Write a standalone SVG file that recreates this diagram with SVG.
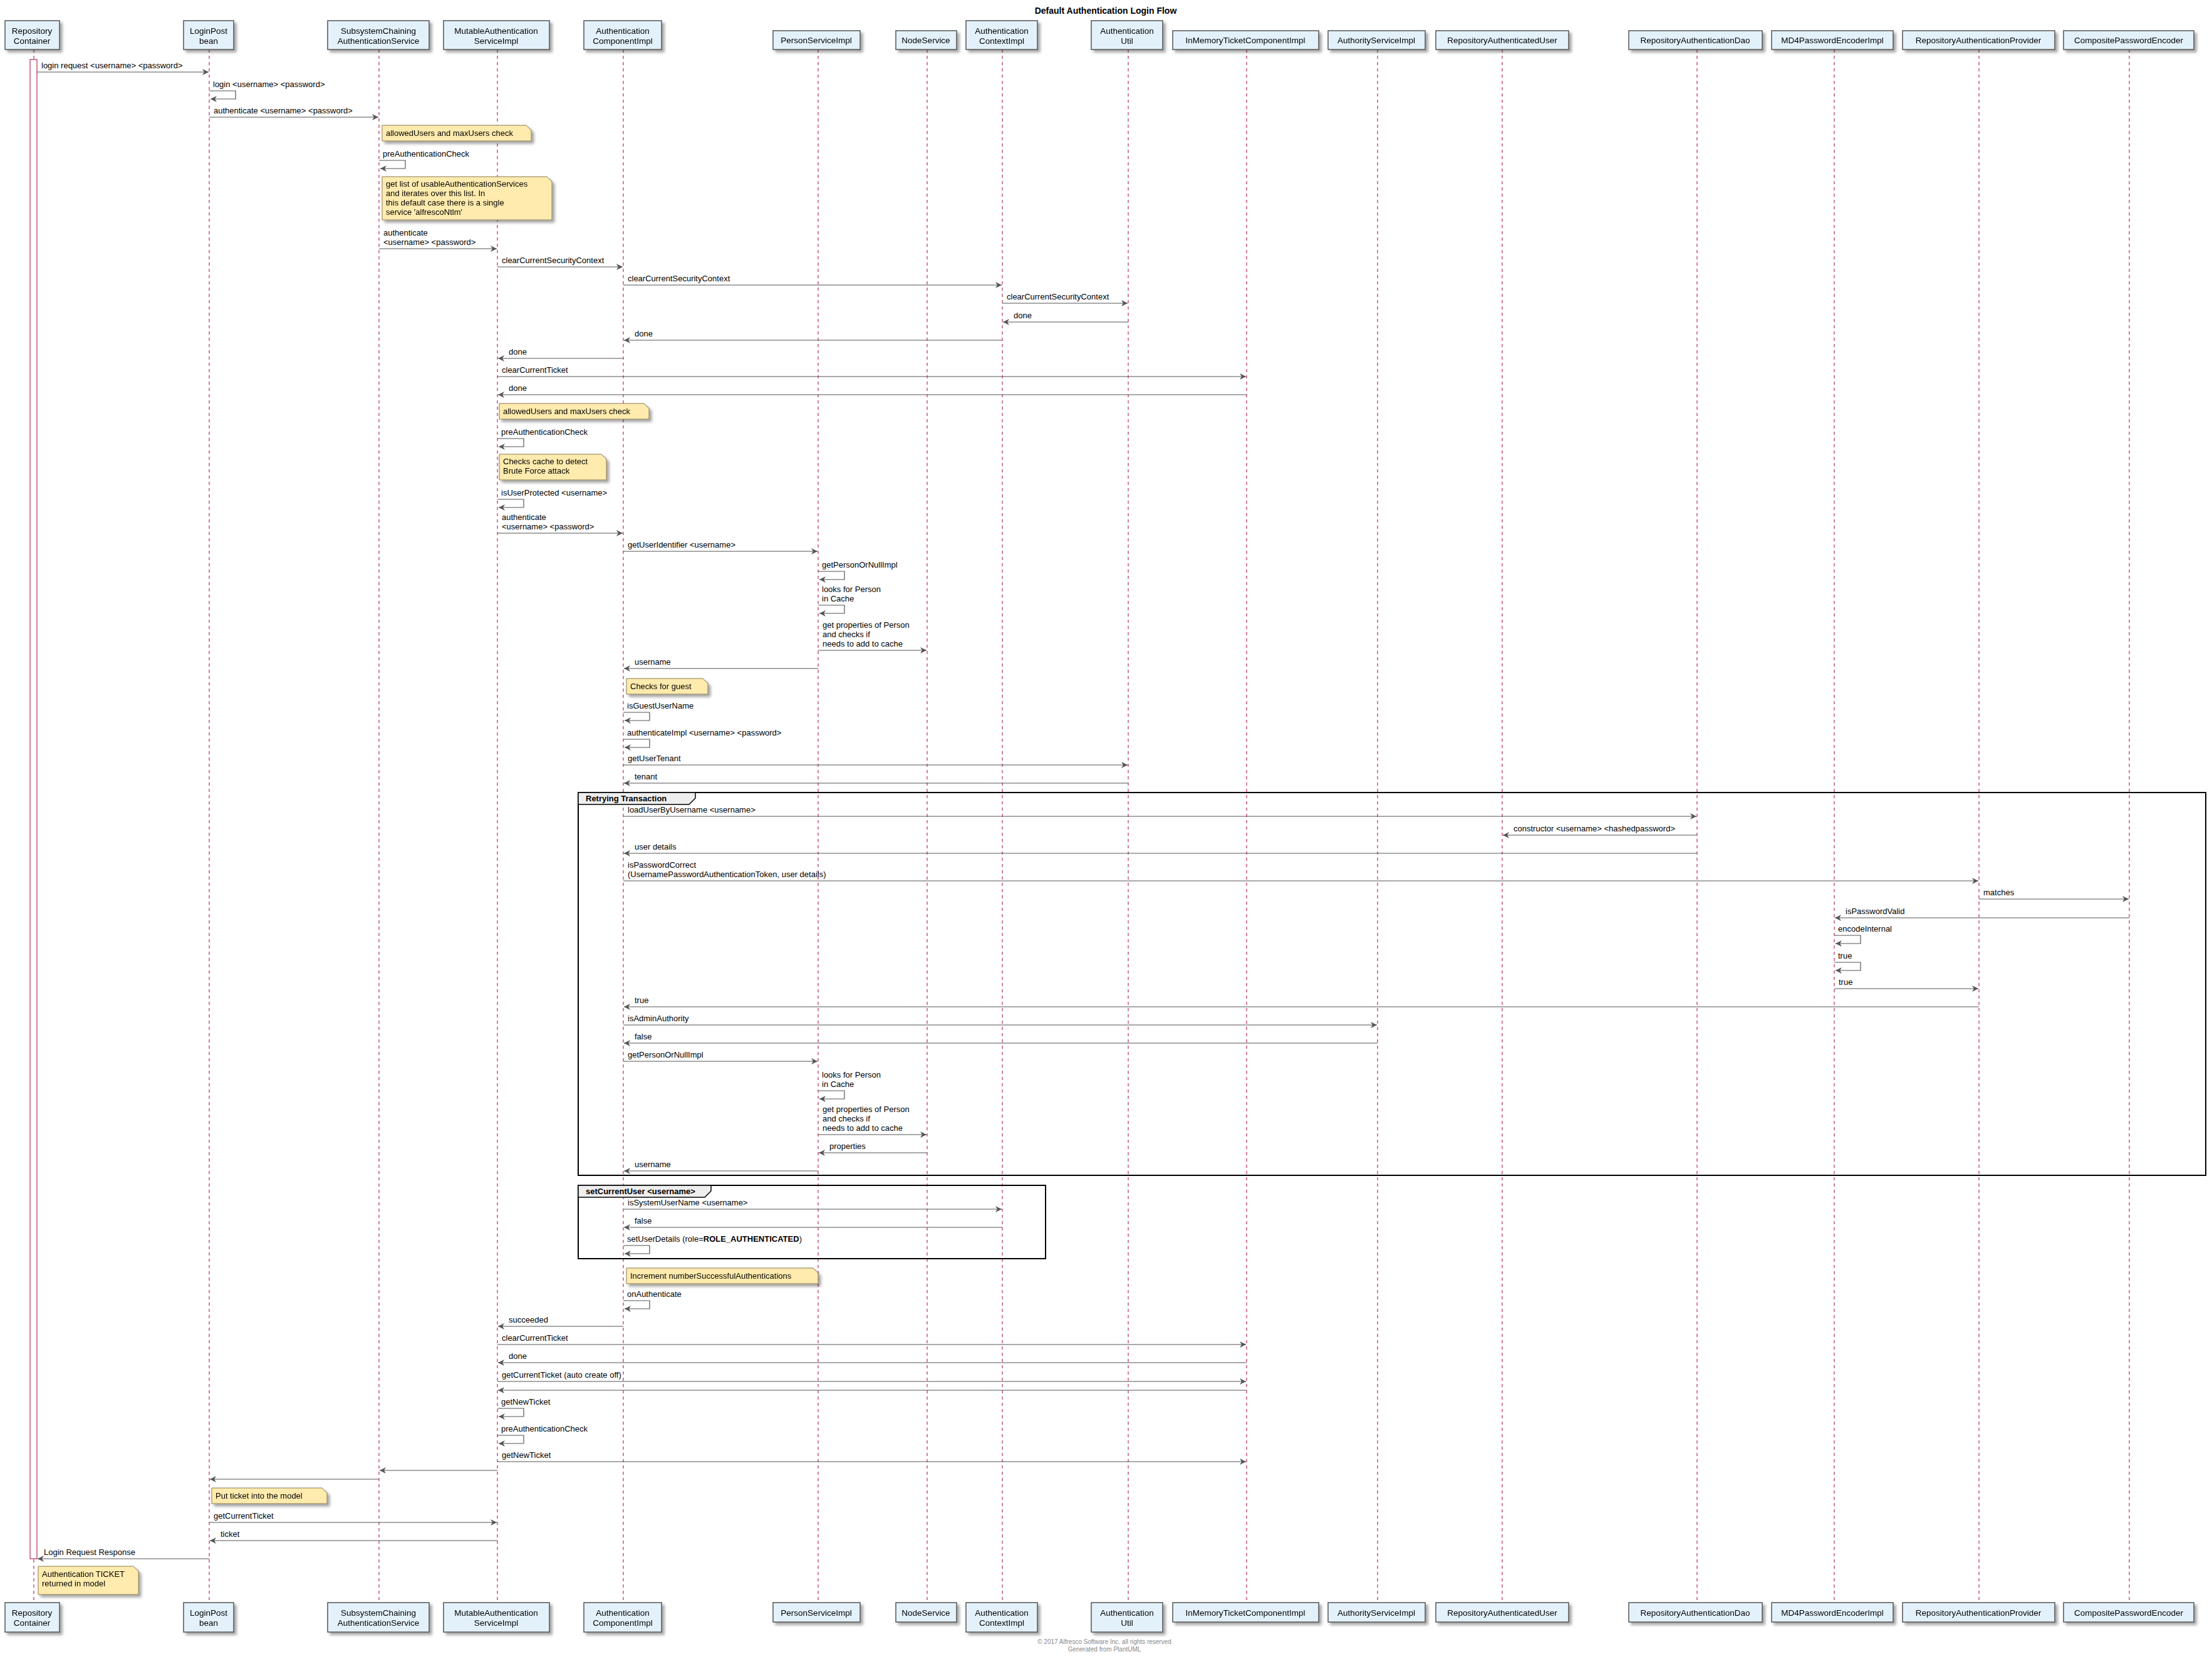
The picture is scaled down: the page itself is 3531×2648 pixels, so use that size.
<svg xmlns="http://www.w3.org/2000/svg" width="3531" height="2648" viewBox="0 0 3531 2648">
<style>
text{font-family:"Liberation Sans",Arial,sans-serif;font-size:13px;fill:#000}
.t{font-size:14px;font-weight:bold}
.h{font-size:13.5px;text-anchor:middle}
.box{fill:#E3F1FB;stroke:#555;stroke-width:1.5}
.life{stroke:#A80036;stroke-width:1;stroke-dasharray:5,5}
.m{stroke:#555;stroke-width:1.2;fill:none;marker-end:url(#a)}
.note{fill:#FFEBAD;stroke:#8a7a55;stroke-width:1}
.fr{fill:none;stroke:#000;stroke-width:2}
.ft{font-size:10px;fill:#888;text-anchor:middle}
</style>
<defs>
<marker id="a" markerUnits="userSpaceOnUse" markerWidth="12" markerHeight="10" refX="10" refY="5" orient="auto"><path d="M0,0 L10,5 L0,10 L3,5 z" fill="#555"/></marker>
<filter id="sh" x="-10%" y="-10%" width="130%" height="150%"><feDropShadow dx="4" dy="4" stdDeviation="2" flood-opacity="0.35"/></filter>
</defs>
<rect width="3531" height="2648" fill="#fff"/>
<text class="t" x="1765" y="22" text-anchor="middle">Default Authentication Login Flow</text>
<g id="lifelines">
<line class="life" x1="54" y1="79" x2="54" y2="2558"/><line class="life" x1="334" y1="79" x2="334" y2="2558"/><line class="life" x1="605" y1="79" x2="605" y2="2558"/><line class="life" x1="794" y1="79" x2="794" y2="2558"/><line class="life" x1="995" y1="79" x2="995" y2="2558"/><line class="life" x1="1306" y1="79" x2="1306" y2="2558"/><line class="life" x1="1480" y1="79" x2="1480" y2="2558"/><line class="life" x1="1600" y1="79" x2="1600" y2="2558"/><line class="life" x1="1801" y1="79" x2="1801" y2="2558"/><line class="life" x1="1990" y1="79" x2="1990" y2="2558"/><line class="life" x1="2199" y1="79" x2="2199" y2="2558"/><line class="life" x1="2398" y1="79" x2="2398" y2="2558"/><line class="life" x1="2709" y1="79" x2="2709" y2="2558"/><line class="life" x1="2928" y1="79" x2="2928" y2="2558"/><line class="life" x1="3159" y1="79" x2="3159" y2="2558"/><line class="life" x1="3399" y1="79" x2="3399" y2="2558"/>
</g>
<rect x="48" y="95" width="11" height="2393" fill="#fff" stroke="#A80036" stroke-width="1"/>
<g id="p-RepositoryContainer" filter="url(#sh)"><rect class="box" x="8" y="33" width="87" height="46"/><text class="h" x="51" y="54">Repository</text><text class="h" x="51" y="70">Container</text><rect class="box" x="8" y="2558" width="87" height="47"/><text class="h" x="51" y="2579">Repository</text><text class="h" x="51" y="2595">Container</text></g>
<g id="p-LoginPost" filter="url(#sh)"><rect class="box" x="293" y="33" width="80" height="46"/><text class="h" x="333" y="54">LoginPost</text><text class="h" x="333" y="70">bean</text><rect class="box" x="293" y="2558" width="80" height="47"/><text class="h" x="333" y="2579">LoginPost</text><text class="h" x="333" y="2595">bean</text></g>
<g id="p-Subsystem" filter="url(#sh)"><rect class="box" x="523" y="33" width="162" height="46"/><text class="h" x="604" y="54">SubsystemChaining</text><text class="h" x="604" y="70">AuthenticationService</text><rect class="box" x="523" y="2558" width="162" height="47"/><text class="h" x="604" y="2579">SubsystemChaining</text><text class="h" x="604" y="2595">AuthenticationService</text></g>
<g id="p-Mutable" filter="url(#sh)"><rect class="box" x="708" y="33" width="169" height="46"/><text class="h" x="792" y="54">MutableAuthentication</text><text class="h" x="792" y="70">ServiceImpl</text><rect class="box" x="708" y="2558" width="169" height="47"/><text class="h" x="792" y="2579">MutableAuthentication</text><text class="h" x="792" y="2595">ServiceImpl</text></g>
<g id="p-AuthComponent" filter="url(#sh)"><rect class="box" x="932" y="33" width="124" height="46"/><text class="h" x="994" y="54">Authentication</text><text class="h" x="994" y="70">ComponentImpl</text><rect class="box" x="932" y="2558" width="124" height="47"/><text class="h" x="994" y="2579">Authentication</text><text class="h" x="994" y="2595">ComponentImpl</text></g>
<g id="p-Person" filter="url(#sh)"><rect class="box" x="1234" y="49" width="139" height="30"/><text class="h" x="1303" y="69">PersonServiceImpl</text><rect class="box" x="1234" y="2558" width="139" height="31"/><text class="h" x="1303" y="2579">PersonServiceImpl</text></g>
<g id="p-Node" filter="url(#sh)"><rect class="box" x="1430" y="49" width="97" height="30"/><text class="h" x="1478" y="69">NodeService</text><rect class="box" x="1430" y="2558" width="97" height="31"/><text class="h" x="1478" y="2579">NodeService</text></g>
<g id="p-AuthContext" filter="url(#sh)"><rect class="box" x="1542" y="33" width="114" height="46"/><text class="h" x="1599" y="54">Authentication</text><text class="h" x="1599" y="70">ContextImpl</text><rect class="box" x="1542" y="2558" width="114" height="47"/><text class="h" x="1599" y="2579">Authentication</text><text class="h" x="1599" y="2595">ContextImpl</text></g>
<g id="p-AuthUtil" filter="url(#sh)"><rect class="box" x="1742" y="33" width="114" height="46"/><text class="h" x="1799" y="54">Authentication</text><text class="h" x="1799" y="70">Util</text><rect class="box" x="1742" y="2558" width="114" height="47"/><text class="h" x="1799" y="2579">Authentication</text><text class="h" x="1799" y="2595">Util</text></g>
<g id="p-InMemory" filter="url(#sh)"><rect class="box" x="1872" y="49" width="233" height="30"/><text class="h" x="1988" y="69">InMemoryTicketComponentImpl</text><rect class="box" x="1872" y="2558" width="233" height="31"/><text class="h" x="1988" y="2579">InMemoryTicketComponentImpl</text></g>
<g id="p-Authority" filter="url(#sh)"><rect class="box" x="2120" y="49" width="155" height="30"/><text class="h" x="2197" y="69">AuthorityServiceImpl</text><rect class="box" x="2120" y="2558" width="155" height="31"/><text class="h" x="2197" y="2579">AuthorityServiceImpl</text></g>
<g id="p-RepoAuthUser" filter="url(#sh)"><rect class="box" x="2292" y="49" width="212" height="30"/><text class="h" x="2398" y="69">RepositoryAuthenticatedUser</text><rect class="box" x="2292" y="2558" width="212" height="31"/><text class="h" x="2398" y="2579">RepositoryAuthenticatedUser</text></g>
<g id="p-Dao" filter="url(#sh)"><rect class="box" x="2600" y="49" width="213" height="30"/><text class="h" x="2706" y="69">RepositoryAuthenticationDao</text><rect class="box" x="2600" y="2558" width="213" height="31"/><text class="h" x="2706" y="2579">RepositoryAuthenticationDao</text></g>
<g id="p-MD4" filter="url(#sh)"><rect class="box" x="2828" y="49" width="194" height="30"/><text class="h" x="2925" y="69">MD4PasswordEncoderImpl</text><rect class="box" x="2828" y="2558" width="194" height="31"/><text class="h" x="2925" y="2579">MD4PasswordEncoderImpl</text></g>
<g id="p-Provider" filter="url(#sh)"><rect class="box" x="3037" y="49" width="243" height="30"/><text class="h" x="3158" y="69">RepositoryAuthenticationProvider</text><rect class="box" x="3037" y="2558" width="243" height="31"/><text class="h" x="3158" y="2579">RepositoryAuthenticationProvider</text></g>
<g id="p-Composite" filter="url(#sh)"><rect class="box" x="3294" y="49" width="208" height="30"/><text class="h" x="3398" y="69">CompositePasswordEncoder</text><rect class="box" x="3294" y="2558" width="208" height="31"/><text class="h" x="3398" y="2579">CompositePasswordEncoder</text></g>
<g id="frames">
<rect class="fr" x="923" y="1265" width="2598" height="611"/>
<path d="M923,1265 H1110 V1274 L1100,1284 H923 Z" fill="#EEE" stroke="#000" stroke-width="1.5"/>
<text x="935" y="1279" style="font-weight:bold">Retrying Transaction</text>
<rect class="fr" x="923" y="1892" width="746" height="117"/>
<path d="M923,1892 H1135 V1901 L1125,1911 H923 Z" fill="#EEE" stroke="#000" stroke-width="1.5"/>
<text x="935" y="1906" style="font-weight:bold">setCurrentUser &lt;username&gt;</text>
</g>
<g id="notes" filter="url(#sh)">
<path class="note" d="M610,200 H840 L848,208 V225 H610 Z"/><text x="616" y="217">allowedUsers and maxUsers check</text>
<path class="note" d="M610,282 H873 L881,290 V351 H610 Z"/><text x="616" y="298">get list of usableAuthenticationServices</text><text x="616" y="313">and iterates over this list.  In</text><text x="616" y="328">this default case there is a single</text><text x="616" y="343">service 'alfrescoNtlm'</text>
<path class="note" d="M797,644 H1028 L1036,652 V669 H797 Z"/><text x="803" y="661">allowedUsers and maxUsers check</text>
<path class="note" d="M797,725 H960 L968,733 V766 H797 Z"/><text x="803" y="741">Checks cache to detect</text><text x="803" y="756">Brute Force attack</text>
<path class="note" d="M1000,1083 H1122 L1130,1091 V1108 H1000 Z"/><text x="1006" y="1100">Checks for guest</text>
<path class="note" d="M1000,2024 H1298 L1306,2032 V2049 H1000 Z"/><text x="1006" y="2041">Increment numberSuccessfulAuthentications</text>
<path class="note" d="M338,2375 H514 L522,2383 V2400 H338 Z"/><text x="344" y="2392">Put ticket into the model</text>
<path class="note" d="M61,2500 H213 L221,2508 V2545 H61 Z"/><text x="67" y="2517">Authentication TICKET</text><text x="67" y="2532">returned in model</text>
</g>
<g id="connectors">
<path class="m" d="M59,115 H333"/><text x="66" y="109">login request &lt;username&gt; &lt;password&gt;</text>
<path class="m" d="M334,145 H376 V158 H336"/><text x="340" y="139">login &lt;username&gt; &lt;password&gt;</text>
<path class="m" d="M334,187 H604"/><text x="341" y="181">authenticate &lt;username&gt; &lt;password&gt;</text>
<path class="m" d="M605,256 H647 V269 H607"/><text x="611" y="250">preAuthenticationCheck</text>
<path class="m" d="M605,397 H793"/><text x="612" y="376">authenticate</text><text x="612" y="391">&lt;username&gt; &lt;password&gt;</text>
<path class="m" d="M794,426 H994"/><text x="801" y="420">clearCurrentSecurityContext</text>
<path class="m" d="M995,455 H1599"/><text x="1002" y="449">clearCurrentSecurityContext</text>
<path class="m" d="M1600,484 H1800"/><text x="1607" y="478">clearCurrentSecurityContext</text>
<path class="m" d="M1801,514 H1601"/><text x="1618" y="508">done</text>
<path class="m" d="M1600,543 H996"/><text x="1013" y="537">done</text>
<path class="m" d="M995,572 H795"/><text x="812" y="566">done</text>
<path class="m" d="M794,601 H1989"/><text x="801" y="595">clearCurrentTicket</text>
<path class="m" d="M1990,630 H795"/><text x="812" y="624">done</text>
<path class="m" d="M794,700 H836 V713 H796"/><text x="800" y="694">preAuthenticationCheck</text>
<path class="m" d="M794,797 H836 V810 H796"/><text x="800" y="791">isUserProtected &lt;username&gt;</text>
<path class="m" d="M794,851 H994"/><text x="801" y="830">authenticate</text><text x="801" y="845">&lt;username&gt; &lt;password&gt;</text>
<path class="m" d="M995,880 H1305"/><text x="1002" y="874">getUserIdentifier &lt;username&gt;</text>
<path class="m" d="M1306,912 H1348 V925 H1308"/><text x="1312" y="906">getPersonOrNullImpl</text>
<path class="m" d="M1306,966 H1348 V979 H1308"/><text x="1312" y="945">looks for Person</text><text x="1312" y="960">in Cache</text>
<path class="m" d="M1306,1038 H1479"/><text x="1313" y="1002">get properties of Person</text><text x="1313" y="1017">and checks if</text><text x="1313" y="1032">needs to add to cache</text>
<path class="m" d="M1306,1067 H996"/><text x="1013" y="1061">username</text>
<path class="m" d="M995,1137 H1037 V1150 H997"/><text x="1001" y="1131">isGuestUserName</text>
<path class="m" d="M995,1180 H1037 V1193 H997"/><text x="1001" y="1174">authenticateImpl &lt;username&gt; &lt;password&gt;</text>
<path class="m" d="M995,1221 H1800"/><text x="1002" y="1215">getUserTenant</text>
<path class="m" d="M1801,1250 H996"/><text x="1013" y="1244">tenant</text>
<path class="m" d="M995,1303 H2708"/><text x="1002" y="1297">loadUserByUsername &lt;username&gt;</text>
<path class="m" d="M2709,1333 H2399"/><text x="2416" y="1327">constructor &lt;username&gt; &lt;hashedpassword&gt;</text>
<path class="m" d="M2709,1362 H996"/><text x="1013" y="1356">user details</text>
<path class="m" d="M995,1406 H3158"/><text x="1002" y="1385">isPasswordCorrect</text><text x="1002" y="1400">(UsernamePasswordAuthenticationToken, user details)</text>
<path class="m" d="M3159,1435 H3398"/><text x="3166" y="1429">matches</text>
<path class="m" d="M3399,1465 H2929"/><text x="2946" y="1459">isPasswordValid</text>
<path class="m" d="M2928,1493 H2970 V1506 H2930"/><text x="2934" y="1487">encodeInternal</text>
<path class="m" d="M2928,1536 H2970 V1549 H2930"/><text x="2934" y="1530">true</text>
<path class="m" d="M2928,1578 H3158"/><text x="2935" y="1572">true</text>
<path class="m" d="M3159,1607 H996"/><text x="1013" y="1601">true</text>
<path class="m" d="M995,1636 H2198"/><text x="1002" y="1630">isAdminAuthority</text>
<path class="m" d="M2199,1665 H996"/><text x="1013" y="1659">false</text>
<path class="m" d="M995,1694 H1305"/><text x="1002" y="1688">getPersonOrNullImpl</text>
<path class="m" d="M1306,1741 H1348 V1754 H1308"/><text x="1312" y="1720">looks for Person</text><text x="1312" y="1735">in Cache</text>
<path class="m" d="M1306,1811 H1479"/><text x="1313" y="1775">get properties of Person</text><text x="1313" y="1790">and checks if</text><text x="1313" y="1805">needs to add to cache</text>
<path class="m" d="M1480,1840 H1307"/><text x="1324" y="1834">properties</text>
<path class="m" d="M1306,1869 H996"/><text x="1013" y="1863">username</text>
<path class="m" d="M995,1930 H1599"/><text x="1002" y="1924">isSystemUserName &lt;username&gt;</text>
<path class="m" d="M1600,1959 H996"/><text x="1013" y="1953">false</text>
<path class="m" d="M995,1988 H1037 V2001 H997"/><text x="1001" y="1982">setUserDetails (role=<tspan font-weight="bold">ROLE_AUTHENTICATED</tspan>)</text>
<path class="m" d="M995,2076 H1037 V2089 H997"/><text x="1001" y="2070">onAuthenticate</text>
<path class="m" d="M995,2117 H795"/><text x="812" y="2111">succeeded</text>
<path class="m" d="M794,2146 H1989"/><text x="801" y="2140">clearCurrentTicket</text>
<path class="m" d="M1990,2175 H795"/><text x="812" y="2169">done</text>
<path class="m" d="M794,2205 H1989"/><text x="801" y="2199">getCurrentTicket (auto create off)</text>
<path class="m" d="M1990,2219 H795"/>
<path class="m" d="M794,2248 H836 V2261 H796"/><text x="800" y="2242">getNewTicket</text>
<path class="m" d="M794,2291 H836 V2304 H796"/><text x="800" y="2285">preAuthenticationCheck</text>
<path class="m" d="M794,2333 H1989"/><text x="801" y="2327">getNewTicket</text>
<path class="m" d="M794,2347 H606"/>
<path class="m" d="M605,2361 H335"/>
<path class="m" d="M334,2430 H793"/><text x="341" y="2424">getCurrentTicket</text>
<path class="m" d="M794,2459 H335"/><text x="352" y="2453">ticket</text>
<path class="m" d="M334,2488 H60"/><text x="70" y="2482">Login Request Response</text>
</g>
<text class="ft" x="1763" y="2624">© 2017 Alfresco Software Inc. all rights reserved</text>
<text class="ft" x="1763" y="2636">Generated from PlantUML</text>
</svg>
